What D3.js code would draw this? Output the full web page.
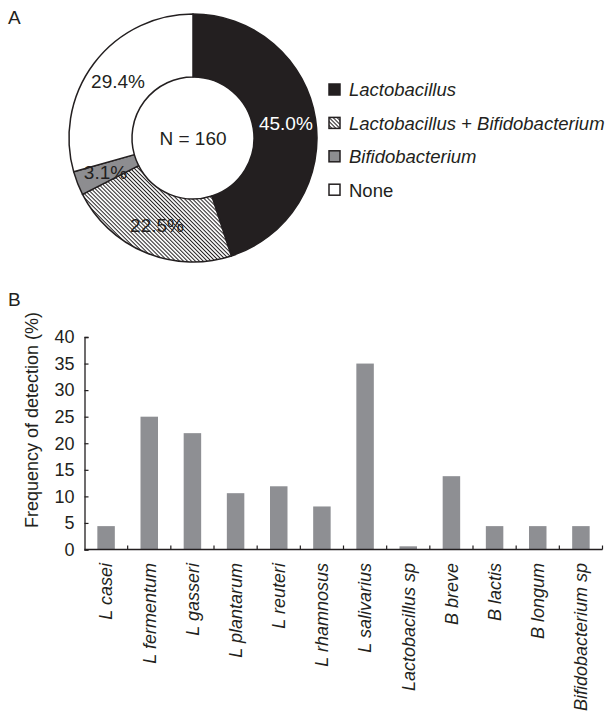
<!DOCTYPE html>
<html>
<head>
<meta charset="utf-8">
<script src="https://cdn.jsdelivr.net/npm/d3@7"></script>
<style>
  html, body { margin: 0; padding: 0; background: #fff; }
  svg { display: block; font-family: Arial, "Liberation Sans", Helvetica, sans-serif; }
</style>
</head>
<body>
<svg id="chart" width="614" height="715"></svg>
<script>
// Panel A: colonisation groups (share of subjects, %)
const groupNames = ["Lactobacillus", "Lactobacillus + Bifidobacterium", "Bifidobacterium", "None"];
const groupShares = [45.0, 22.5, 3.1, 29.4];
const groupItalic = [true, true, true, false];
const sampleSize = 160;

// Panel B: detection frequency per species (%)
const species = ["L casei", "L fermentum", "L gasseri", "L plantarum", "L reuteri", "L rhamnosus",
                 "L salivarius", "Lactobacillus sp", "B breve", "B lactis", "B longum", "Bifidobacterium sp"];
const frequency = [4.4, 25.0, 21.9, 10.6, 11.9, 8.1, 35.0, 0.6, 13.8, 4.4, 4.4, 4.4];
const yTicks = [0, 5, 10, 15, 20, 25, 30, 35, 40];

const ink = "#231f20";
const svg = d3.select("#chart");

// hatch pattern (back-slash lines) for the mixed group
const defs = svg.append("defs");
const hatch = defs.append("pattern")
  .attr("id", "hatch")
  .attr("patternUnits", "userSpaceOnUse")
  .attr("width", 2.8).attr("height", 2.8)
  .attr("patternTransform", "rotate(45)");
hatch.append("rect").attr("width", 2.8).attr("height", 2.8).attr("fill", "#fff");
hatch.append("line").attr("x1", 0).attr("y1", 1.4).attr("x2", 2.8).attr("y2", 1.4)
  .attr("stroke", ink).attr("stroke-width", 1.0);

const groupFill = ["#231f20", "url(#hatch)", "#8d8d90", "#ffffff"];

// ---------- Panel A ----------
svg.append("text").attr("x", 8).attr("y", 24).attr("font-size", 19).attr("fill", ink).text("A");

const cx = 193, cy = 138, rOuter = 124, rInner = 61;
const pie = d3.pie().sort(null).value(d => d);
const arc = d3.arc().innerRadius(rInner).outerRadius(rOuter);
const labelArc = d3.arc().innerRadius(94).outerRadius(94);
const arcs = pie(groupShares);

const gPie = svg.append("g").attr("transform", `translate(${cx},${cy})`);
gPie.selectAll("path.slice").data(arcs).join("path")
  .attr("class", "slice")
  .attr("d", arc)
  .attr("fill", (d, i) => groupFill[i])
  .attr("stroke", ink)
  .attr("stroke-width", 1.5)
  .attr("stroke-linejoin", "round");

gPie.selectAll("text.pct").data(arcs).join("text")
  .attr("class", "pct")
  .attr("transform", d => `translate(${labelArc.centroid(d)})`)
  .attr("text-anchor", "middle")
  .attr("dy", "0.35em")
  .attr("font-size", 19)
  .attr("fill", (d, i) => i === 0 ? "#ffffff" : ink)
  .text(d => d.data.toFixed(1) + "%");

gPie.append("text")
  .attr("text-anchor", "middle")
  .attr("y", 6.5)
  .attr("font-size", 19)
  .attr("fill", ink)
  .text("N = " + sampleSize);

// legend
const legend = svg.append("g").attr("transform", "translate(329,90)");
const rows = legend.selectAll("g").data(groupNames).join("g")
  .attr("transform", (d, i) => `translate(0,${i * 33.4})`);
rows.append("rect")
  .attr("x", 0).attr("y", -6).attr("width", 11).attr("height", 11)
  .attr("fill", (d, i) => groupFill[i])
  .attr("stroke", ink).attr("stroke-width", 1.5);
rows.append("text")
  .attr("x", 20).attr("y", 0).attr("dy", "0.35em")
  .attr("font-size", 18.5)
  .attr("font-style", (d, i) => groupItalic[i] ? "italic" : "normal")
  .attr("fill", ink)
  .text(d => d);

// ---------- Panel B ----------
svg.append("text").attr("x", 8).attr("y", 306).attr("font-size", 19).attr("fill", ink).text("B");

const x0 = 84.5, x1 = 602.5, yBase = 549.5, yTop = 337;
const x = d3.scaleBand().domain(species).range([x0, x1]).paddingInner(0.595).paddingOuter(0.2975);
const y = d3.scaleLinear().domain([0, 40]).range([yBase, yTop]);

svg.append("g").selectAll("rect").data(frequency).join("rect")
  .attr("x", (d, i) => x(species[i]))
  .attr("y", d => y(d))
  .attr("width", x.bandwidth())
  .attr("height", d => yBase - y(d))
  .attr("fill", "#8e8f93");

// y axis (ticks point inward)
const yAxis = svg.append("g").attr("transform", `translate(${x0},0)`)
  .call(d3.axisLeft(y).tickValues(yTicks).tickSize(-4).tickPadding(10));
yAxis.select(".domain").attr("stroke", ink).attr("stroke-width", 1.3);
yAxis.selectAll(".tick line").attr("stroke", ink).attr("stroke-width", 1.2);
yAxis.selectAll(".tick text").attr("font-size", 18).attr("fill", ink)
  .attr("font-family", "Arial, 'Liberation Sans', sans-serif");

// x axis: baseline with small inward ticks at band boundaries
const step = x.step();
const bounds = d3.range(1, species.length + 1).map(k => x0 + k * step);
svg.append("line").attr("x1", x0).attr("x2", x1).attr("y1", yBase).attr("y2", yBase)
  .attr("stroke", ink).attr("stroke-width", 1.3);
svg.append("g").selectAll("line").data(bounds).join("line")
  .attr("x1", d => d).attr("x2", d => d)
  .attr("y1", yBase).attr("y2", yBase - 4)
  .attr("stroke", ink).attr("stroke-width", 1.2);

// rotated species labels
svg.append("g").selectAll("text").data(species).join("text")
  .attr("transform", d => `translate(${x(d) + x.bandwidth() / 2},563) rotate(-90)`)
  .attr("text-anchor", "end")
  .attr("dy", "0.35em")
  .attr("font-size", 18)
  .attr("font-style", "italic")
  .attr("fill", ink)
  .text(d => d);

// y axis title
svg.append("text")
  .attr("transform", "translate(38,420) rotate(-90)")
  .attr("text-anchor", "middle")
  .attr("font-size", 18)
  .attr("fill", ink)
  .text("Frequency of detection (%)");
</script>
</body>
</html>
